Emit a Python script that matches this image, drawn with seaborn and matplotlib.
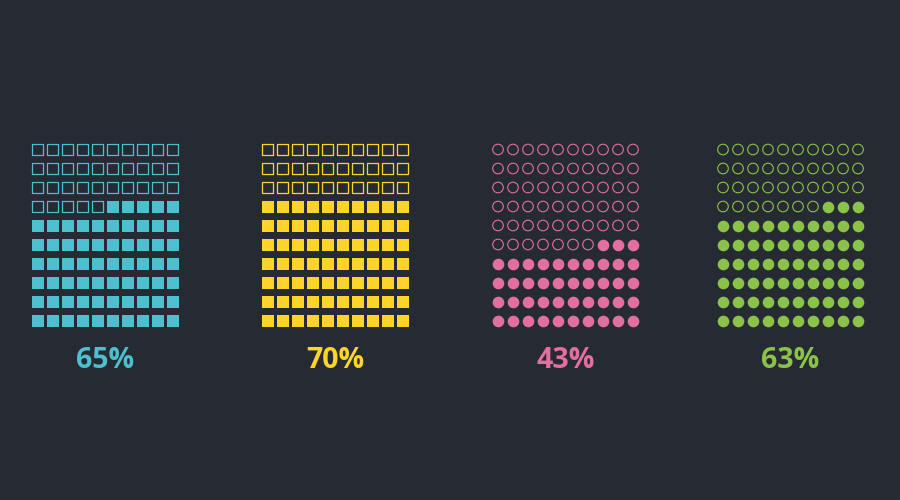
import numpy as np
import pandas as pd
import matplotlib
matplotlib.use("Agg")
import matplotlib.pyplot as plt
import seaborn as sns

# Values shown by the four 10x10 waffle grids
labels = ["65%", "70%", "43%", "63%"]
percent = [65, 70, 43, 63]
colors = ["#4DBFCF", "#FFD42A", "#E36FA0", "#8BC34A"]
markers = ["s", "s", "o", "o"]

BG = "#262B33"

sns.set_theme(style="dark", rc={
    "figure.facecolor": BG,
    "axes.facecolor": BG,
    "savefig.facecolor": BG,
})
plt.rcParams["font.family"] = ["Open Sans", "DejaVu Sans"]

# Layout (pixel-like units on a 900x500 canvas)
grid_x0 = [37.5, 267.5, 498.0, 723.0]
col_step = 15.0
row_y0 = 149.5
row_step = 19.0
label_y = 360.5

rows = []
for g, p in enumerate(percent):
    for r in range(10):          # r = 0 is the top row
        for c in range(10):
            k = (9 - r) * 10 + (9 - c)   # fill from bottom, right to left
            rows.append({
                "grid": g,
                "x": grid_x0[g] + c * col_step,
                "y": row_y0 + r * row_step,
                "filled": k < p,
            })
cells = pd.DataFrame(rows)

fig = plt.figure(figsize=(9, 5), dpi=100)
ax = fig.add_axes([0, 0, 1, 1])
ax.set_xlim(0, 900)
ax.set_ylim(500, 0)
ax.axis("off")

marker_sizes = {"s": (84, 66, 0.9), "o": (70, 58, 0.8)}

for g in range(len(percent)):
    sub = cells[cells["grid"] == g]
    m = markers[g]
    s_fill, s_empty, lw = marker_sizes[m]
    sns.scatterplot(data=sub[sub["filled"]], x="x", y="y", marker=m,
                    s=s_fill, color=colors[g], linewidth=0, ax=ax,
                    legend=False)
    sns.scatterplot(data=sub[~sub["filled"]], x="x", y="y", marker=m,
                    s=s_empty, color=colors[g], facecolor="none",
                    edgecolor=colors[g], linewidth=lw, ax=ax, legend=False)
    cx = grid_x0[g] + 4.5 * col_step
    ax.text(cx, label_y, labels[g], color=colors[g], fontsize=20.5,
            fontweight="bold", ha="center", va="center")

ax.set_xlim(0, 900)
ax.set_ylim(500, 0)
ax.set_xlabel("")
ax.set_ylabel("")

fig.savefig("out.png", dpi=100, facecolor=BG)
